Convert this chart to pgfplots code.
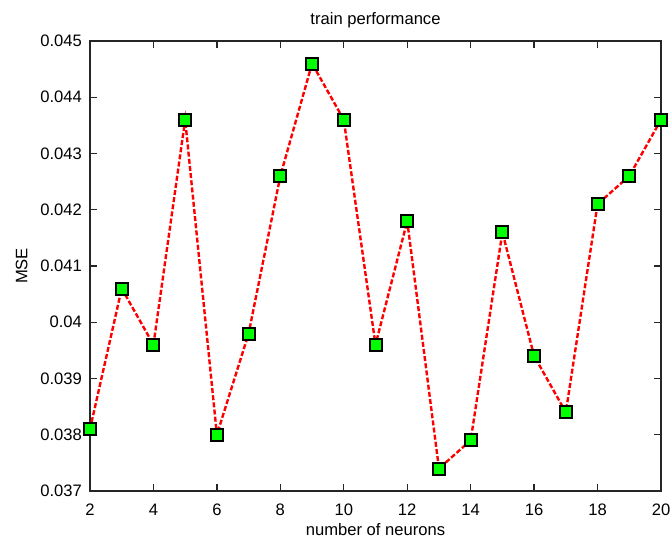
\documentclass[border=0pt]{standalone}
\usepackage{pgfplots}
\pgfplotsset{compat=1.18}
\usepackage{fontspec}
\setmainfont{Liberation Sans}
\begin{document}
\begin{tikzpicture}
\useasboundingbox (0,0) rectangle (336pt,268.5pt);
\begin{axis}[
  at={(45pt,23pt)}, anchor=south west,
  width=285.5pt, height=225pt, scale only axis,
  xmin=2, xmax=20, ymin=0.037, ymax=0.045,
  xtick={2,4,...,20},
  ytick={0.037,0.038,0.039,0.040,0.041,0.042,0.043,0.044,0.045},
  yticklabels={0.037,0.038,0.039,0.04,0.041,0.042,0.043,0.044,0.045},
  scaled y ticks=false,
  tick align=inside, major tick length=3.5pt,
  axis line style={black!85, line width=0.8pt},
  tick style={black!85, line width=0.7pt},
  /pgf/number format/assume math mode=true,
  ticklabel style={font=\fontsize{8.3}{10}\selectfont},
  xticklabel style={yshift=-3pt},
  yticklabel style={xshift=-0.5pt},
  title={train performance},
  title style={font=\fontsize{8.3}{10}\selectfont, yshift=-3pt},
  xlabel={number of neurons},
  xlabel style={font=\fontsize{8.3}{10}\selectfont, yshift=3.2pt},
  ylabel={MSE},
  ylabel style={font=\fontsize{8.3}{10}\selectfont, yshift=-0.5pt},
  clip=false,
]
\addplot[red, line width=1.2pt, dash pattern=on 2.5pt off 1.1pt,
  mark=square*, mark size=3pt,
  mark options={solid, fill={rgb,255:red,0;green,255;blue,0}, draw=black, line width=1pt}]
coordinates {
(2,0.0381) (3,0.0406) (4,0.0396) (5,0.0436) (6,0.0380) (7,0.0398)
(8,0.0426) (9,0.0446) (10,0.0436) (11,0.0396) (12,0.0418) (13,0.0374)
(14,0.0379) (15,0.0416) (16,0.0394) (17,0.0384) (18,0.0421) (19,0.0426)
(20,0.0436)
};
\end{axis}
\end{tikzpicture}
\end{document}
